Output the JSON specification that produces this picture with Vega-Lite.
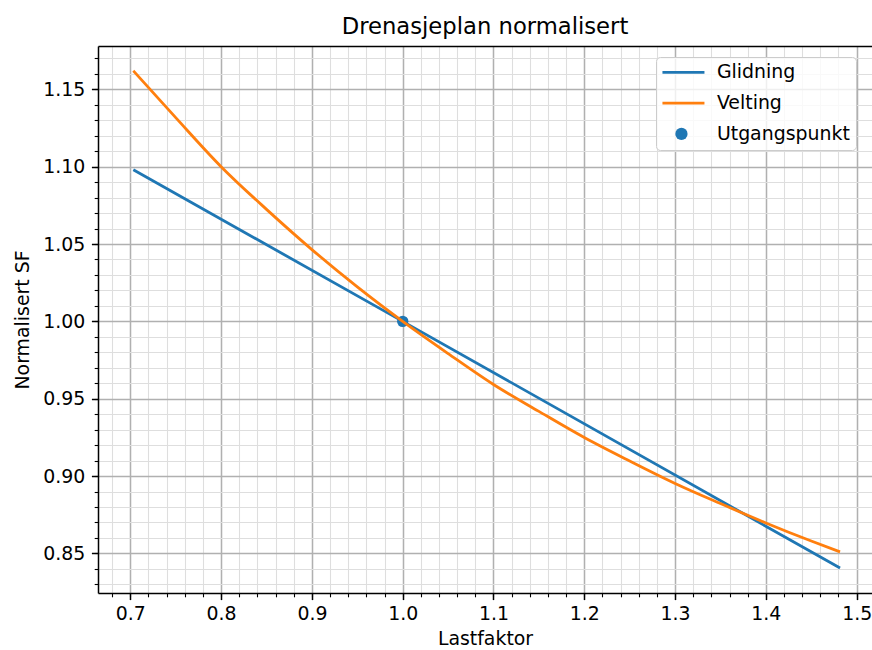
{
  "$schema": "https://vega.github.io/schema/vega-lite/v6.json",
  "width": 774,
  "height": 547,
  "autosize": "none",
  "padding": {"left": 98, "top": 46, "right": 0, "bottom": 57},
  "title": {
    "text": "Drenasjeplan normalisert",
    "font": "DejaVu Sans",
    "fontSize": 22.7,
    "fontWeight": "normal",
    "color": "#000000",
    "anchor": "middle",
    "baseline": "bottom",
    "offset": -16
  },
  "config": {
    "font": "DejaVu Sans",
    "view": {"stroke": null},
    "axis": {"labelFlush": false, "labelOverlap": false, "labelBound": false}
  },
  "data": {
    "values": [
      {"serie": "Glidning", "lastfaktor": 0.7033, "sf": 1.098},
      {"serie": "Glidning", "lastfaktor": 1.0, "sf": 1.0},
      {"serie": "Glidning", "lastfaktor": 1.4817, "sf": 0.8405},
      {"serie": "Velting", "lastfaktor": 0.7033, "sf": 1.162},
      {"serie": "Velting", "lastfaktor": 0.75, "sf": 1.1317},
      {"serie": "Velting", "lastfaktor": 0.8, "sf": 1.1},
      {"serie": "Velting", "lastfaktor": 0.85, "sf": 1.0724},
      {"serie": "Velting", "lastfaktor": 0.9, "sf": 1.0464},
      {"serie": "Velting", "lastfaktor": 0.95, "sf": 1.0223},
      {"serie": "Velting", "lastfaktor": 1.0, "sf": 1.0},
      {"serie": "Velting", "lastfaktor": 1.05, "sf": 0.9792},
      {"serie": "Velting", "lastfaktor": 1.1, "sf": 0.9592},
      {"serie": "Velting", "lastfaktor": 1.15, "sf": 0.9418},
      {"serie": "Velting", "lastfaktor": 1.2, "sf": 0.9249},
      {"serie": "Velting", "lastfaktor": 1.25, "sf": 0.9097},
      {"serie": "Velting", "lastfaktor": 1.3, "sf": 0.8952},
      {"serie": "Velting", "lastfaktor": 1.35, "sf": 0.8822},
      {"serie": "Velting", "lastfaktor": 1.4, "sf": 0.8697},
      {"serie": "Velting", "lastfaktor": 1.45, "sf": 0.858},
      {"serie": "Velting", "lastfaktor": 1.4817, "sf": 0.851},
      {"serie": "Utgangspunkt", "lastfaktor": 1.0, "sf": 1.0}
    ]
  },
  "resolve": {"axis": {"x": "independent", "y": "independent"}},
  "layer": [
    {
      "transform": [{"filter": "datum.serie === 'Utgangspunkt'"}],
      "mark": {"type": "point", "filled": true, "opacity": 1, "size": 130, "shape": "circle"},
      "encoding": {
        "x": {
          "field": "lastfaktor", "type": "quantitative",
          "scale": {"domain": [0.6644, 1.5169], "nice": false, "zero": false},
          "axis": {
            "orient": "bottom", "title": null, "labels": false, "domain": false,
            "values": [0.68, 0.7, 0.72, 0.74, 0.76, 0.78, 0.8, 0.82, 0.84, 0.86, 0.88, 0.9, 0.92, 0.94, 0.96, 0.98, 1, 1.02, 1.04, 1.06, 1.08, 1.1, 1.12, 1.14, 1.16, 1.18, 1.2, 1.22, 1.24, 1.26, 1.28, 1.3, 1.32, 1.34, 1.36, 1.38, 1.4, 1.42, 1.44, 1.46, 1.48, 1.5],
            "grid": true, "gridColor": "#dedede", "gridWidth": 1.1,
            "ticks": true, "tickSize": 3.8, "tickColor": "#000000", "tickWidth": 1.1
          }
        },
        "y": {
          "field": "sf", "type": "quantitative",
          "scale": {"domain": [0.8244, 1.178], "nice": false, "zero": false},
          "axis": {
            "orient": "left", "title": null, "labels": false, "domain": false,
            "values": [0.83, 0.84, 0.85, 0.86, 0.87, 0.88, 0.89, 0.9, 0.91, 0.92, 0.93, 0.94, 0.95, 0.96, 0.97, 0.98, 0.99, 1, 1.01, 1.02, 1.03, 1.04, 1.05, 1.06, 1.07, 1.08, 1.09, 1.1, 1.11, 1.12, 1.13, 1.14, 1.15, 1.16, 1.17],
            "grid": true, "gridColor": "#dedede", "gridWidth": 1.1,
            "ticks": true, "tickSize": 3.8, "tickColor": "#000000", "tickWidth": 1.1
          }
        },
        "fill": {
          "field": "serie", "type": "nominal",
          "scale": {"domain": ["Utgangspunkt"], "range": ["#1f77b4"]},
          "legend": {
            "title": null,
            "orient": "none",
            "legendX": 574,
            "legendY": 78.5,
            "padding": 0,
            "zindex": 2,
            "symbolType": "circle",
            "symbolSize": 150,
            "symbolOffset": 0,
            "symbolStrokeWidth": 0,
            "labelFontSize": 18.9,
            "labelExpr": "''"
          }
        }
      }
    },
    {
      "transform": [{"filter": "datum.serie === 'Glidning'"}],
      "mark": {"type": "line", "strokeWidth": 2.8},
      "encoding": {
        "x": {
          "field": "lastfaktor", "type": "quantitative",
          "axis": {
            "orient": "bottom", "title": "Lastfaktor",
            "values": [0.7, 0.8, 0.9, 1.0, 1.1, 1.2, 1.3, 1.4, 1.5], "format": ".1f",
            "grid": true, "gridColor": "#b0b0b0", "gridWidth": 1.5,
            "domain": true, "domainColor": "#000000", "domainWidth": 1.5,
            "ticks": true, "tickSize": 6.6, "tickColor": "#000000", "tickWidth": 1.5,
            "labelFont": "DejaVu Sans", "labelFontSize": 18.9, "labelColor": "#000000", "labelPadding": 5,
            "titleFont": "DejaVu Sans", "titleFontSize": 18.9, "titleFontWeight": "normal", "titleColor": "#000000", "titlePadding": 6
          }
        },
        "y": {
          "field": "sf", "type": "quantitative",
          "axis": {
            "orient": "left", "title": "Normalisert SF",
            "values": [0.85, 0.9, 0.95, 1.0, 1.05, 1.1, 1.15], "format": ".2f",
            "grid": true, "gridColor": "#b0b0b0", "gridWidth": 1.5,
            "domain": true, "domainColor": "#000000", "domainWidth": 1.5,
            "ticks": true, "tickSize": 6.6, "tickColor": "#000000", "tickWidth": 1.5,
            "labelFont": "DejaVu Sans", "labelFontSize": 18.9, "labelColor": "#000000", "labelPadding": 6.6,
            "titleFont": "DejaVu Sans", "titleFontSize": 18.9, "titleFontWeight": "normal", "titleColor": "#000000", "titlePadding": 10
          }
        },
        "color": {
          "field": "serie", "type": "nominal",
          "scale": {"domain": ["Glidning", "Velting", "Utgangspunkt"], "range": ["#1f77b4", "#ff7f0e", "transparent"]},
          "legend": {
            "title": null,
            "orient": "none",
            "legendX": 558,
            "legendY": 11,
            "padding": 6,
            "zindex": 1,
            "fillColor": "rgba(255,255,255,0.8)",
            "strokeColor": "#cccccc",
            "cornerRadius": 4,
            "labelFont": "DejaVu Sans",
            "labelFontSize": 18.9,
            "labelColor": "#000000",
            "symbolType": "M-3,0H3",
            "symbolSize": 196,
            "symbolStrokeWidth": 2.8,
            "symbolOffset": 12,
            "labelOffset": 24,
            "rowPadding": 10.6
          }
        }
      }
    },
    {
      "transform": [{"filter": "datum.serie === 'Velting'"}],
      "mark": {"type": "line", "strokeWidth": 2.8, "interpolate": "monotone"},
      "encoding": {
        "x": {
          "field": "lastfaktor", "type": "quantitative",
          "axis": {
            "orient": "top", "title": null, "labels": false, "ticks": false, "grid": false,
            "domain": true, "domainColor": "#000000", "domainWidth": 1.5
          }
        },
        "y": {"field": "sf", "type": "quantitative", "axis": null},
        "color": {"field": "serie", "type": "nominal", "legend": null}
      }
    }
  ]
}
